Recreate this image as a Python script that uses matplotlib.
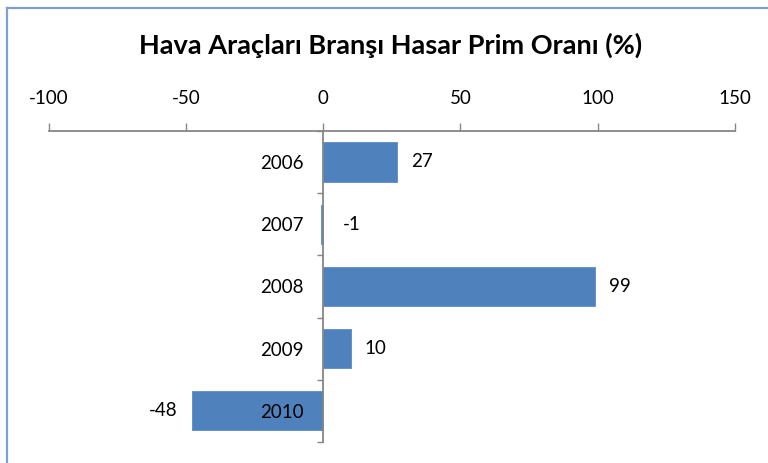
import matplotlib.pyplot as plt
from matplotlib.lines import Line2D

years = ["2006", "2007", "2008", "2009", "2010"]
ratios = [27, -1, 99, 10, -48]
xticks = [-100, -50, 0, 50, 100, 150]

plt.rcParams['font.family'] = ['Lato', 'DejaVu Sans']

fig = plt.figure(figsize=(7.68, 4.63), dpi=100)
ax = fig.add_axes([0.0638, 0.0454, 0.893, 0.672])

ypos = list(range(len(years)))
ax.barh(ypos, ratios, height=0.63, color="#4f81bd", edgecolor="#5b8bc6", linewidth=0.6, zorder=1)

ax.set_xlim(-100, 150)
ax.set_ylim(len(years) - 0.5, -0.5)

axis_col = "#868686"
fs = 13.5
ax.xaxis.tick_top()
ax.set_xticks(xticks)
ax.set_xticklabels([str(t) for t in xticks])
ax.tick_params(axis='x', direction='out', length=5.5, width=1, color=axis_col,
               pad=12, labelsize=fs, labelcolor="#000000")

ax.spines['left'].set_position(('data', 0))
ax.spines['right'].set_visible(False)
ax.spines['bottom'].set_visible(False)
for s in ('top', 'left'):
    ax.spines[s].set_color(axis_col)
    ax.spines[s].set_linewidth(1.3)

# boundaries get tick marks, centers get labels
ax.set_yticks([i - 0.5 for i in range(len(years) + 1)])
ax.set_yticklabels([])
ax.set_yticks(ypos, minor=True)
ax.set_yticklabels(years, minor=True)
ax.tick_params(axis='y', which='major', direction='out', length=4.5, width=1, color=axis_col)
ax.tick_params(axis='y', which='minor', length=0, pad=14, labelsize=fs)

for y, v in zip(ypos, ratios):
    if v > -5:
        ax.annotate(str(v), (max(v, 0), y), xytext=(10 if v >= 0 else 14, 0),
                    textcoords='offset points', ha='left', va='center', fontsize=fs)
    else:
        ax.annotate(str(v), (v, y), xytext=(-10, 0), textcoords='offset points',
                    ha='right', va='center', fontsize=fs)

fig.text(0.508, 0.903, "Hava Araçları Branşı Hasar Prim Oranı (%)", ha='center', va='center',
         fontsize=19.5, fontweight='bold')

# chart frame (only top and left edges visible)
fx0, fy0 = 7 / 768, 1 - 8 / 463
fig.add_artist(Line2D([fx0, 1], [fy0, fy0], color="#7f9fcf", lw=1.6))
fig.add_artist(Line2D([fx0, fx0], [0, fy0], color="#7f9fcf", lw=1.6))

fig.savefig("out.png", dpi=100)
